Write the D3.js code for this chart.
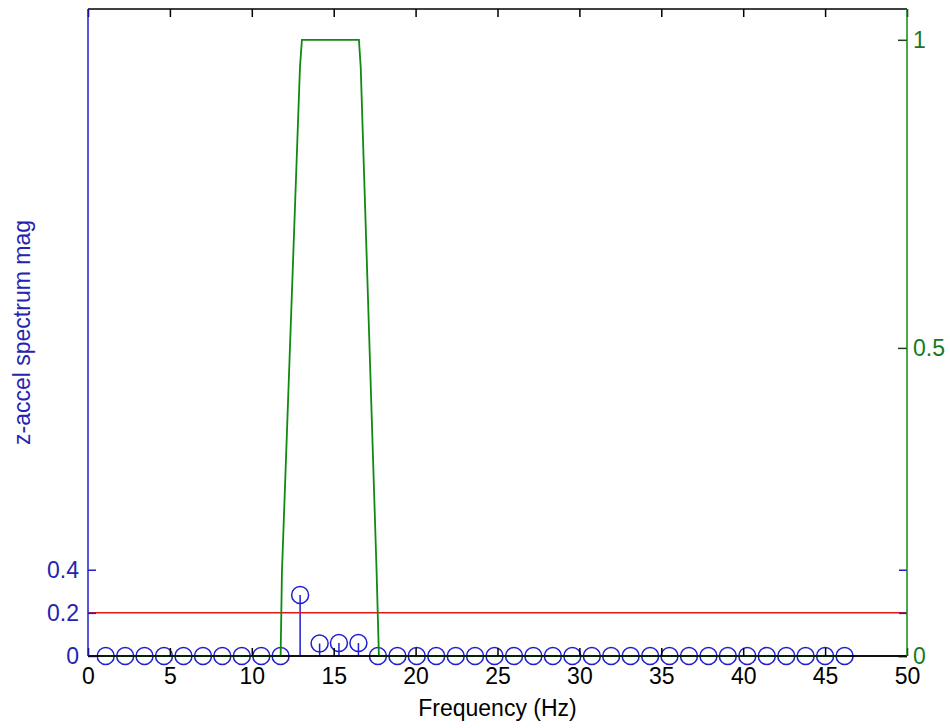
<!DOCTYPE html>
<html>
<head>
<meta charset="utf-8">
<script src="https://cdn.jsdelivr.net/npm/d3@7/dist/d3.min.js"></script>
<style>
  html, body { margin: 0; padding: 0; background: #fff; }
  svg { display: block; }
  text { font-family: "Liberation Sans", Arial, Helvetica, sans-serif; }
</style>
</head>
<body>
<svg id="chart" width="950" height="728"></svg>
<script>
// ---- data ----
const freqs = [1.08, 2.27, 3.45, 4.64, 5.83, 7.02, 8.20, 9.39, 10.58, 11.76,
               12.95, 14.14, 15.32, 16.51, 17.70, 18.89, 20.07, 21.26, 22.45, 23.63,
               24.82, 26.01, 27.19, 28.38, 29.57, 30.76, 31.94, 33.13, 34.32, 35.50,
               36.69, 37.88, 39.06, 40.25, 41.44, 42.63, 43.81, 45.00, 46.19];
const spectrumMag = [0, 0, 0, 0, 0, 0, 0, 0, 0, 0,
                     0.283, 0.058, 0.060, 0.060, 0, 0, 0, 0, 0, 0,
                     0, 0, 0, 0, 0, 0, 0, 0, 0, 0,
                     0, 0, 0, 0, 0, 0, 0, 0, 0];
const thresholdValue = 0.2;
const filterFreqs = [1.08, 11.76, 11.84, 12.94, 13.06, 16.54, 16.65, 17.62, 17.76, 46.19];
const filterGain  = [0, 0, 0.136, 0.955, 1.0, 1.0, 0.955, 0.136, 0, 0];
const xTicks = [0, 5, 10, 15, 20, 25, 30, 35, 40, 45, 50];
const yLeftTicks = [0, 0.2, 0.4];
const yRightTicks = [0, 0.5, 1];
const xLabel = "Frequency (Hz)";
const yLeftLabel = "z-accel spectrum mag";

// ---- layout ----
const L = 88, R = 907, T = 9, B = 656;
const BLUE = "#1f1fd0", BLUE_TXT = "#2424b0", GREEN = "#108a10", GREEN_TXT = "#1a7a1a", RED = "#e01818";
const FS = 23;

const svg = d3.select("#chart");
svg.append("rect").attr("width", 950).attr("height", 728).attr("fill", "#fff");

const x = d3.scaleLinear().domain([0, 50]).range([L, R]);
const yL = d3.scaleLinear().domain([0, 3]).range([B, T]);
const yR = d3.scaleLinear().domain([0, 1.05]).range([B, T]);

// stems
const stems = svg.append("g");
freqs.forEach((f, i) => {
  const v = spectrumMag[i];
  if (v > 0) {
    stems.append("line")
      .attr("x1", x(f)).attr("x2", x(f))
      .attr("y1", yL(0)).attr("y2", yL(v))
      .attr("stroke", BLUE).attr("stroke-width", 1.5);
  }
});
// baseline
svg.append("line").attr("x1", x(0)).attr("x2", x(50))
  .attr("y1", yL(0)).attr("y2", yL(0)).attr("stroke", "#000").attr("stroke-width", 1.5);
freqs.forEach((f, i) => {
  stems.append("circle")
    .attr("cx", x(f)).attr("cy", yL(spectrumMag[i])).attr("r", 8.5)
    .attr("fill", "none").attr("stroke", BLUE).attr("stroke-width", 1.5);
});

// red threshold
svg.append("line").attr("x1", x(0)).attr("x2", x(50))
  .attr("y1", yL(thresholdValue)).attr("y2", yL(thresholdValue))
  .attr("stroke", RED).attr("stroke-width", 1.5);

// green filter line
const line = d3.line().x(d => x(d[0])).y(d => yR(d[1]));
svg.append("path")
  .datum(filterFreqs.map((f, i) => [f, filterGain[i]]))
  .attr("d", line).attr("fill", "none").attr("stroke", GREEN).attr("stroke-width", 1.8);

// ---- axes ----
function styleAxis(g, lineColor, textColor) {
  g.select(".domain").remove();
  g.selectAll(".tick line").attr("stroke", lineColor).attr("stroke-width", 1.5);
  g.selectAll(".tick text").attr("fill", textColor).style("font-size", FS + "px")
    .style("font-family", '"Liberation Sans", Arial, sans-serif');
}

// bottom
const gB = svg.append("g").attr("transform", `translate(0,${B})`)
  .call(d3.axisBottom(x).tickValues(xTicks).tickSize(-8).tickPadding(12).tickFormat(d3.format("d")));
styleAxis(gB, "#000", "#000");
// top (ticks only)
const gT = svg.append("g").attr("transform", `translate(0,${T})`)
  .call(d3.axisTop(x).tickValues(xTicks).tickSize(-8).tickFormat(""));
styleAxis(gT, "#000", "#000");
// left
const gL = svg.append("g").attr("transform", `translate(${L},0)`)
  .call(d3.axisLeft(yL).tickValues(yLeftTicks).tickSize(-8).tickPadding(9).tickFormat(d => d === 0 ? "0" : d3.format(".1f")(d)));
styleAxis(gL, BLUE, BLUE_TXT);
// left ticks mirrored on the right
const gLm = svg.append("g").attr("transform", `translate(${R},0)`)
  .call(d3.axisRight(yL).tickValues(yLeftTicks).tickSize(-8).tickFormat(""));
styleAxis(gLm, BLUE, BLUE_TXT);
// right
const gR = svg.append("g").attr("transform", `translate(${R},0)`)
  .call(d3.axisRight(yR).tickValues(yRightTicks).tickSize(-9).tickPadding(6).tickFormat(d => d === 0 ? "0" : (d === 1 ? "1" : d3.format(".1f")(d))));
styleAxis(gR, "#204020", GREEN_TXT);

// axis lines
svg.append("line").attr("x1", L).attr("x2", R).attr("y1", T).attr("y2", T).attr("stroke", "#000").attr("stroke-width", 1.5);
svg.append("line").attr("x1", L).attr("x2", R).attr("y1", B).attr("y2", B).attr("stroke", "#000").attr("stroke-width", 1.5);
svg.append("line").attr("x1", L).attr("x2", L).attr("y1", T).attr("y2", B).attr("stroke", BLUE).attr("stroke-width", 1.5);
svg.append("line").attr("x1", R).attr("x2", R).attr("y1", T).attr("y2", B).attr("stroke", GREEN).attr("stroke-width", 1.5);

// labels
svg.append("text").attr("x", (L + R) / 2).attr("y", 716)
  .attr("text-anchor", "middle").attr("fill", "#000").style("font-size", FS + "px").text(xLabel);
svg.append("text").attr("transform", `translate(30,${(T + B) / 2}) rotate(-90)`)
  .attr("text-anchor", "middle").attr("fill", BLUE_TXT).style("font-size", FS + "px").text(yLeftLabel);
</script>
</body>
</html>
